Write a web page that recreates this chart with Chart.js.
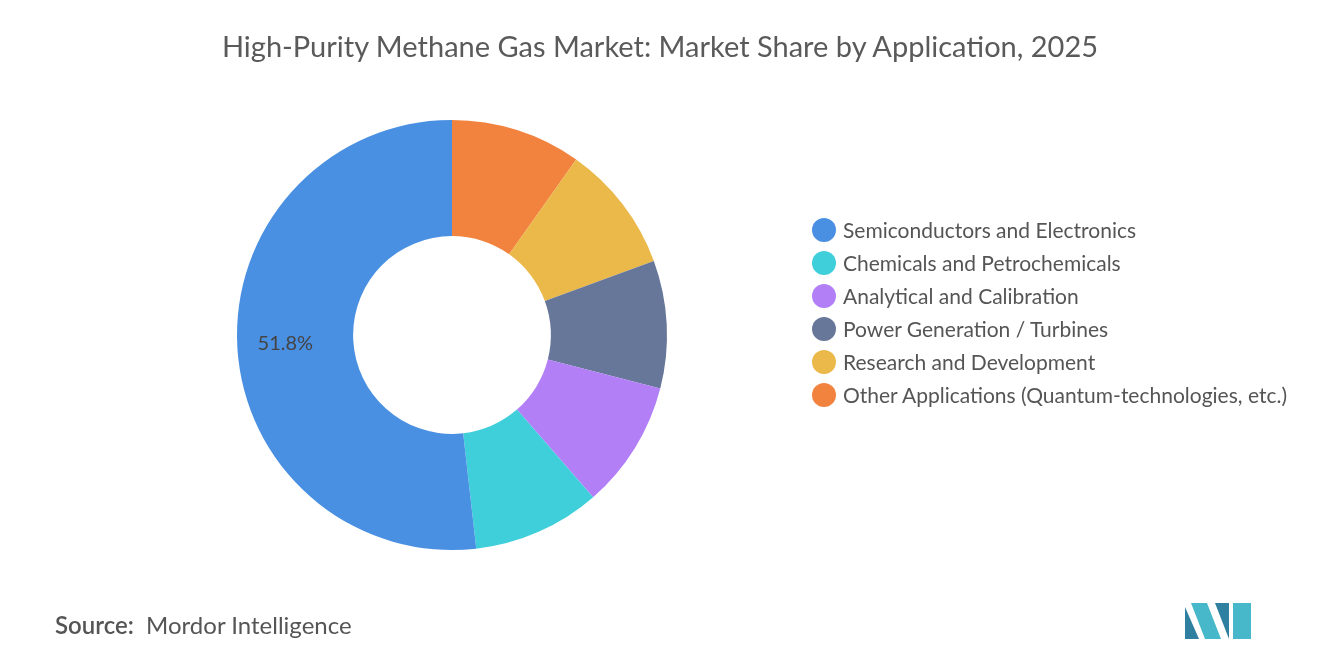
<!DOCTYPE html>
<html>
<head>
<meta charset="utf-8">
<script src="https://cdn.jsdelivr.net/npm/chart.js@4"></script>
<style>
  body { margin: 0; background: #fff; font-family: Lato, "Open Sans", sans-serif; }
  #wrap { position: relative; width: 1320px; height: 665px; }
  #chart { position: absolute; left: 0; top: 0; }
  #title { position: absolute; top: 28px; width: 100%; text-align: center; font-size: 29px; color: #5a5a5a; }
  #legend { position: absolute; left: 812px; top: 216px; width: 480px; }
  .item { display: flex; align-items: flex-start; font-size: 21px; color: #555; line-height: 27px; margin-bottom: 6px; }
  .dot { width: 24px; height: 24px; border-radius: 50%; margin-right: 7px; flex: none; margin-top: 2px; }
  #source { position: absolute; left: 55px; top: 610px; font-size: 24px; color: #555; }
  #source b { font-weight: 600; }
</style>
</head>
<body>
<div id="wrap">
  <canvas id="chart" width="1320" height="665"></canvas>
  <div id="title">High-Purity Methane Gas Market: Market Share by Application, 2025</div>
  <div id="legend"></div>
  <div id="source"><b>Source:</b>&nbsp; Mordor Intelligence</div>
  <svg style="position:absolute;left:1185px;top:603px" width="66" height="36" viewBox="0 0 66 36">
    <polygon points="0,36 0,4 14,36" fill="#2e7fa0"/>
    <polygon points="6,0 22,0 36,36 20,36" fill="#47b8c9"/>
    <polygon points="30,0 44,0 44,36" fill="#2e7fa0"/>
    <polygon points="48,0 66,0 66,36 48,36" fill="#47b8c9"/>
  </svg>
</div>
<script>
// legend order
const categories = [
  "Semiconductors and Electronics",
  "Chemicals and Petrochemicals",
  "Analytical and Calibration",
  "Power Generation / Turbines",
  "Research and Development",
  "Other Applications (Quantum-technologies, etc.)"
];
const shares = [51.8, 9.6, 9.6, 9.6, 9.6, 9.8];
const colors = ["#4a90e2", "#3ecfdb", "#b27ff7", "#667799", "#ebb84a", "#f2833f"];

// slices go clockwise from the top in reverse legend order
const drawLabels = [...categories].reverse();
const drawShares = [...shares].reverse();
const drawColors = [...colors].reverse();

const centerLabel = {
  id: "bigLabel",
  afterDatasetsDraw(chart) {
    const meta = chart.getDatasetMeta(0);
    const idx = drawLabels.indexOf(categories[0]);
    const arc = meta.data[idx];
    const p = arc.tooltipPosition();
    const ctx = chart.ctx;
    ctx.save();
    ctx.font = "20px Lato, sans-serif";
    ctx.fillStyle = "#444";
    ctx.textAlign = "center";
    ctx.textBaseline = "middle";
    ctx.fillText(shares[0].toFixed(1) + "%", p.x - 10, p.y);
    ctx.restore();
  }
};

new Chart(document.getElementById("chart"), {
  type: "doughnut",
  data: {
    labels: drawLabels,
    datasets: [{ data: drawShares, backgroundColor: drawColors, borderWidth: 0 }]
  },
  options: {
    responsive: false,
    animation: false,
    cutout: "46%",
    layout: { padding: { left: 237, right: 653, top: 120, bottom: 115 } },
    plugins: { legend: { display: false }, tooltip: { enabled: false } }
  },
  plugins: [centerLabel]
});

const legend = document.getElementById("legend");
categories.forEach((c, i) => {
  const d = document.createElement("div");
  d.className = "item";
  d.innerHTML = `<span class="dot" style="background:${colors[i]}"></span><span>${c}</span>`;
  legend.appendChild(d);
});
</script>
</body>
</html>
